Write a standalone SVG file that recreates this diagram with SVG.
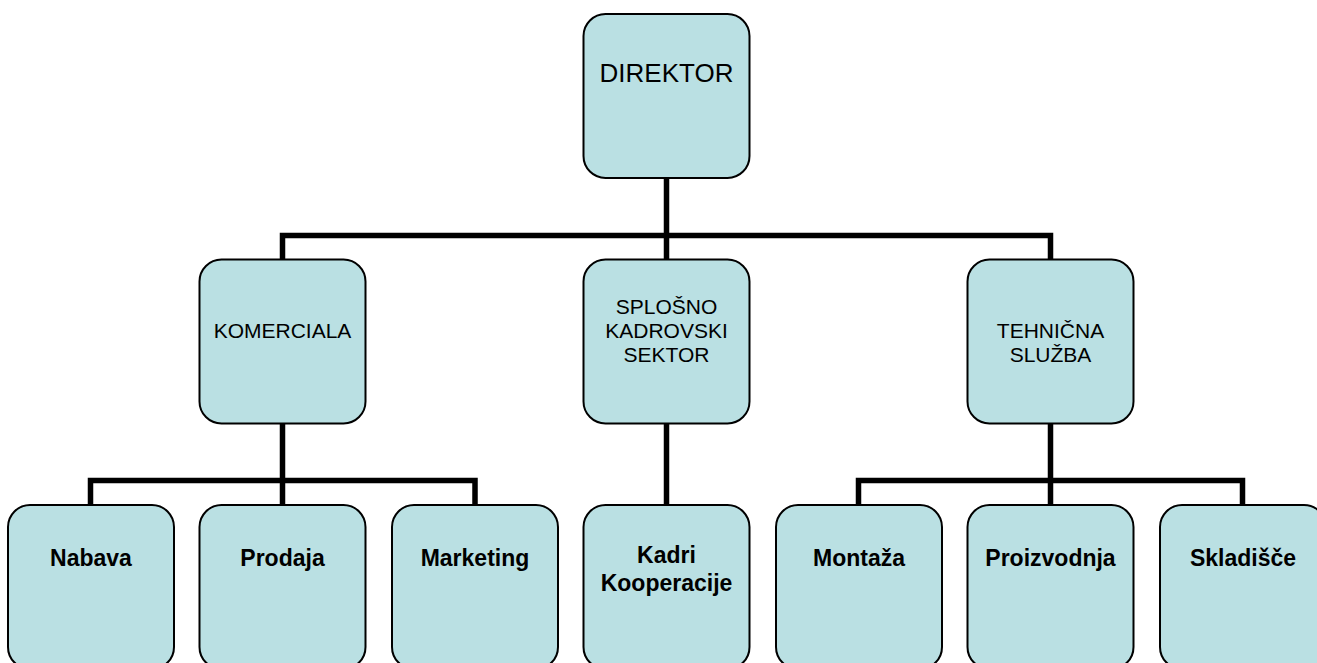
<svg xmlns="http://www.w3.org/2000/svg" width="1317" height="663" viewBox="0 0 1317 663">
<style>
.box{fill:#BAE0E3;stroke:#000;stroke-width:2}
.conn{fill:none;stroke:#000;stroke-width:5.5;stroke-linecap:square;stroke-linejoin:miter}
.t1{font-family:"Liberation Sans",Arial,sans-serif;font-size:26px;fill:#000;text-anchor:middle}
.t2{font-family:"Liberation Sans",Arial,sans-serif;font-size:21px;fill:#000;text-anchor:middle}
.t3{font-family:"Liberation Sans",Arial,sans-serif;font-size:23px;font-weight:bold;fill:#000;text-anchor:middle}
</style>
<rect width="1317" height="663" fill="#fff"/>
<g id="connectors">
<path class="conn" d="M666.5 178 V235.5 M282.5 259 V235.5 H1050.5 V259 M666.5 235.5 V259"/>
<path class="conn" d="M282.5 423 V480.5 M90.5 505 V480.5 H475 V505 M282.5 480.5 V505"/>
<path class="conn" d="M666.5 423 V505"/>
<path class="conn" d="M1050.5 423 V480.5 M858.5 505 V480.5 H1242.5 V505 M1050.5 480.5 V505"/>
</g>
<g id="direktor"><rect class="box" x="583.5" y="14" width="166" height="164" rx="22"/><text class="t1" x="666.5" y="82">DIREKTOR</text></g>
<g id="komerciala"><rect class="box" x="199.5" y="259.5" width="166" height="164" rx="22"/><text class="t2" x="282.5" y="338">KOMERCIALA</text></g>
<g id="splosno"><rect class="box" x="583.5" y="259.5" width="166" height="164" rx="22"/><text class="t2" x="666.5" y="314">SPLOŠNO</text><text class="t2" x="666.5" y="338">KADROVSKI</text><text class="t2" x="666.5" y="362">SEKTOR</text></g>
<g id="tehnicna"><rect class="box" x="967.5" y="259.5" width="166" height="164" rx="22"/><text class="t2" x="1050.5" y="338">TEHNIČNA</text><text class="t2" x="1050.5" y="362">SLUŽBA</text></g>
<g id="nabava"><rect class="box" x="8" y="505" width="166" height="164" rx="22"/><text class="t3" x="91" y="566">Nabava</text></g>
<g id="prodaja"><rect class="box" x="199.5" y="505" width="166" height="164" rx="22"/><text class="t3" x="282.5" y="566">Prodaja</text></g>
<g id="marketing"><rect class="box" x="392" y="505" width="166" height="164" rx="22"/><text class="t3" x="475" y="566">Marketing</text></g>
<g id="kadri"><rect class="box" x="583.5" y="505" width="166" height="164" rx="22"/><text class="t3" x="666.5" y="563">Kadri</text><text class="t3" x="666.5" y="591">Kooperacije</text></g>
<g id="montaza"><rect class="box" x="776" y="505" width="166" height="164" rx="22"/><text class="t3" x="859" y="566">Montaža</text></g>
<g id="proizvodnja"><rect class="box" x="967.5" y="505" width="166" height="164" rx="22"/><text class="t3" x="1050.5" y="566">Proizvodnja</text></g>
<g id="skladisce"><rect class="box" x="1160" y="505" width="166" height="164" rx="22"/><text class="t3" x="1243" y="566">Skladišče</text></g>
</svg>
